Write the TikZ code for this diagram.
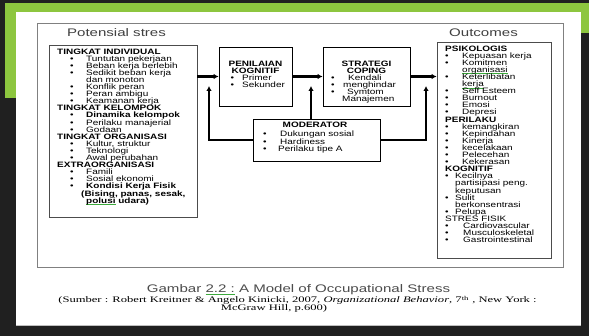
\documentclass[tikz,border=0pt]{standalone}
\usepackage{fontspec}
\usetikzlibrary{positioning,arrows.meta}
\setmainfont{Liberation Serif}
\newfontfamily\boxfont[FakeStretch=1.28]{Liberation Sans}
\newfontfamily\titlefont[FakeStretch=1.37]{Liberation Sans}
\newfontfamily\srcfont[FakeStretch=1.48]{Liberation Serif}
\definecolor{slidegreen}{RGB}{141,198,63}
\definecolor{slidedark}{RGB}{32,32,32}
\definecolor{spellgreen}{RGB}{60,170,60}
\newcommand{\tightlines}{\lineskiplimit=-5pt\relax}
\newcommand{\bu}[2]{\makebox[#1][l]{\textbullet}#2}
\newcommand{\lb}[1]{\hspace*{13pt}\bu{16pt}{#1}}
\newcommand{\rb}[1]{\bu{17pt}{#1}}
\newsavebox{\spellbox}
\newcommand{\spell}[1]{\sbox{\spellbox}{#1}\rlap{\textcolor{spellgreen}{\rule[-1.6pt]{\wd\spellbox}{0.6pt}}}\usebox{\spellbox}}

\begin{document}
\begin{tikzpicture}[x=1pt,y=-1pt,
  frame/.style={draw=black!50,line width=0.9pt},
  listbox/.style={draw=black!70,line width=0.8pt},
  midbox/.style={draw=black,line width=0.8pt},
  flow/.style={line width=2.2pt,-{Latex[length=5pt,width=5.5pt]}},
  item/.style={inner sep=0pt,anchor=north west,align=left,font=\boxfont\fontsize{7.8}{7.1}\selectfont\tightlines},
  head/.style={inner sep=0pt,font=\titlefont\fontsize{11}{13}\selectfont,text=black!75}]
% slide
\fill[slidedark] (0,0) rectangle (589,336);
\fill[slidegreen] (5,3) rectangle (589,12);
\fill[slidegreen] (5,3) rectangle (16,98);
\fill[slidegreen] (580,3) rectangle (589,33);
\fill[white] (16,12) rectangle (581,325);
\draw[black!25] (16,325) -- (581,325);
\useasboundingbox (0,0) rectangle (589,336);

% boxes
\node[frame,minimum width=526pt,minimum height=244pt,inner sep=0pt] (frame) at (300,145) {};
\node[listbox,minimum width=148pt,minimum height=172pt] (potensi) at (123,131) {};
\node[listbox,minimum width=114pt,minimum height=216pt] (outcome) at (494,150) {};
\node[midbox,minimum width=73pt,minimum height=59pt] (nilai) at (255.5,76.5) {};
\node[midbox,minimum width=87pt,minimum height=59pt] (coping) at (366.5,76.5) {};
\node[midbox,minimum width=127pt,minimum height=42pt] (moderator) at (316.5,140) {};

\node[head] (potensititle) at (116.5,33) {Potensial stres};
\node[head] (outcometitle) at (483.5,33) {Outcomes};

\node[item] (potensilist) at (57,48.4) {\textbf{TINGKAT INDIVIDUAL}\\
\lb{Tuntutan pekerjaan}\\
\lb{Beban kerja berlebih}\\
\lb{Sedikit beban kerja}\\
\hspace*{29pt}dan monoton\\
\lb{Konflik peran}\\
\lb{Peran ambigu}\\
\lb{Keamanan kerja}\\
\textbf{TINGKAT KELOMPOK}\\
\lb{\textbf{Dinamika kelompok}}\\
\lb{Perilaku manajerial}\\
\lb{Godaan}\\
\textbf{TINGKAT ORGANISASI}\\
\lb{Kultur, struktur}\\
\lb{Teknologi}\\
\lb{Awal perubahan}\\
\textbf{EXTRAORGANISASI}\\
\lb{Famili}\\
\lb{Sosial ekonomi}\\
\lb{\textbf{Kondisi Kerja Fisik}}\\
\hspace*{24pt}\textbf{(Bising, panas, sesak,}\\
\hspace*{29pt}\textbf{\spell{polusi} udara)}};

\node[item] (outcomelist) at (445,45.4) {\textbf{PSIKOLOGIS}\\
\rb{Kepuasan kerja}\\
\rb{Komitmen}\\
\hspace*{17pt}\spell{organisasi}\\
\rb{Keterlibatan}\\
\hspace*{17pt}\spell{kerja}\\
\rb{Self Esteem}\\
\rb{Burnout}\\
\rb{Emosi}\\
\rb{Depresi}\\
\textbf{PERILAKU}\\
\rb{kemangkiran}\\
\rb{Kepindahan}\\
\rb{Kinerja}\\
\rb{kecelakaan}\\
\rb{Pelecehan}\\
\rb{Kekerasan}\\
\textbf{KOGNITIF}\\
\bu{10pt}{Kecilnya}\\
\hspace*{10pt}partisipasi peng.\\
\hspace*{10pt}keputusan\\
\bu{10pt}{Sulit}\\
\hspace*{10pt}berkonsentrasi\\
\bu{10pt}{Pelupa}\\
STRES FISIK\\
\bu{18pt}{Cardiovascular}\\
\bu{18pt}{Musculoskeletal}\\
\bu{18pt}{Gastrointestinal}};

\node[item,anchor=north,align=center] (nilaititle) at (255.5,60.8) {\textbf{PENILAIAN}\\\textbf{KOGNITIF}};
\node[item] (nilailist) at (230.5,74.4) {\bu{11.5pt}{Primer}\\\bu{11.5pt}{Sekunder}};
\node[item,anchor=north,align=center] (copingtitle) at (366.5,60.8) {\textbf{STRATEGI}\\\textbf{COPING}};
\node[item] (copinglist) at (331,74.4) {\bu{17pt}{Kendali}\\\bu{12pt}{menghindar}\\\bu{16pt}{Symtom}\\\hspace*{11pt}Manajemen};
\node[item,anchor=north] (modtitle) at (315,122.2) {\textbf{MODERATOR}};
\node[item,font=\boxfont\fontsize{7.8}{7.5}\selectfont\tightlines] (modlist) at (263,130.7) {\bu{17pt}{Dukungan sosial}\\\bu{17pt}{Hardiness}\\\bu{15pt}{Perilaku tipe A}};

% arrows
\coordinate (tip1) at (209,86);
\coordinate (tip2) at (311,86);
\coordinate (tip3) at (426,86);
\draw[flow] (potensi.east |- nilai.west) -- (nilai.west);
\draw[flow] (nilai.east) -- (coping.west);
\draw[flow] (coping.east) -- (outcome.west |- coping.east);
\draw[flow] (moderator.west) -| (tip1);
\draw[flow] (tip2 |- moderator.north) -- (tip2);
\draw[flow] (moderator.east) -| (tip3);

% caption
\node[inner sep=0pt,font=\titlefont\fontsize{11}{12}\selectfont,text=black!70] (caption) at (298.5,290) {Gambar \spell{2.2 :} A Model of Occupational Stress};
\node[inner sep=0pt,anchor=base,font=\srcfont\fontsize{8.5}{8.5}\selectfont] (source) at (297.5,303) {(Sumber : Robert Kreitner \& Angelo Kinicki, 2007, \textit{Organizational Behavior}, 7\textsuperscript{th} , New York :};
\node[inner sep=0pt,anchor=base,font=\srcfont\fontsize{8.5}{8.5}\selectfont] (publisher) at (274,311) {McGraw Hill, p.600)};
\end{tikzpicture}
\end{document}
